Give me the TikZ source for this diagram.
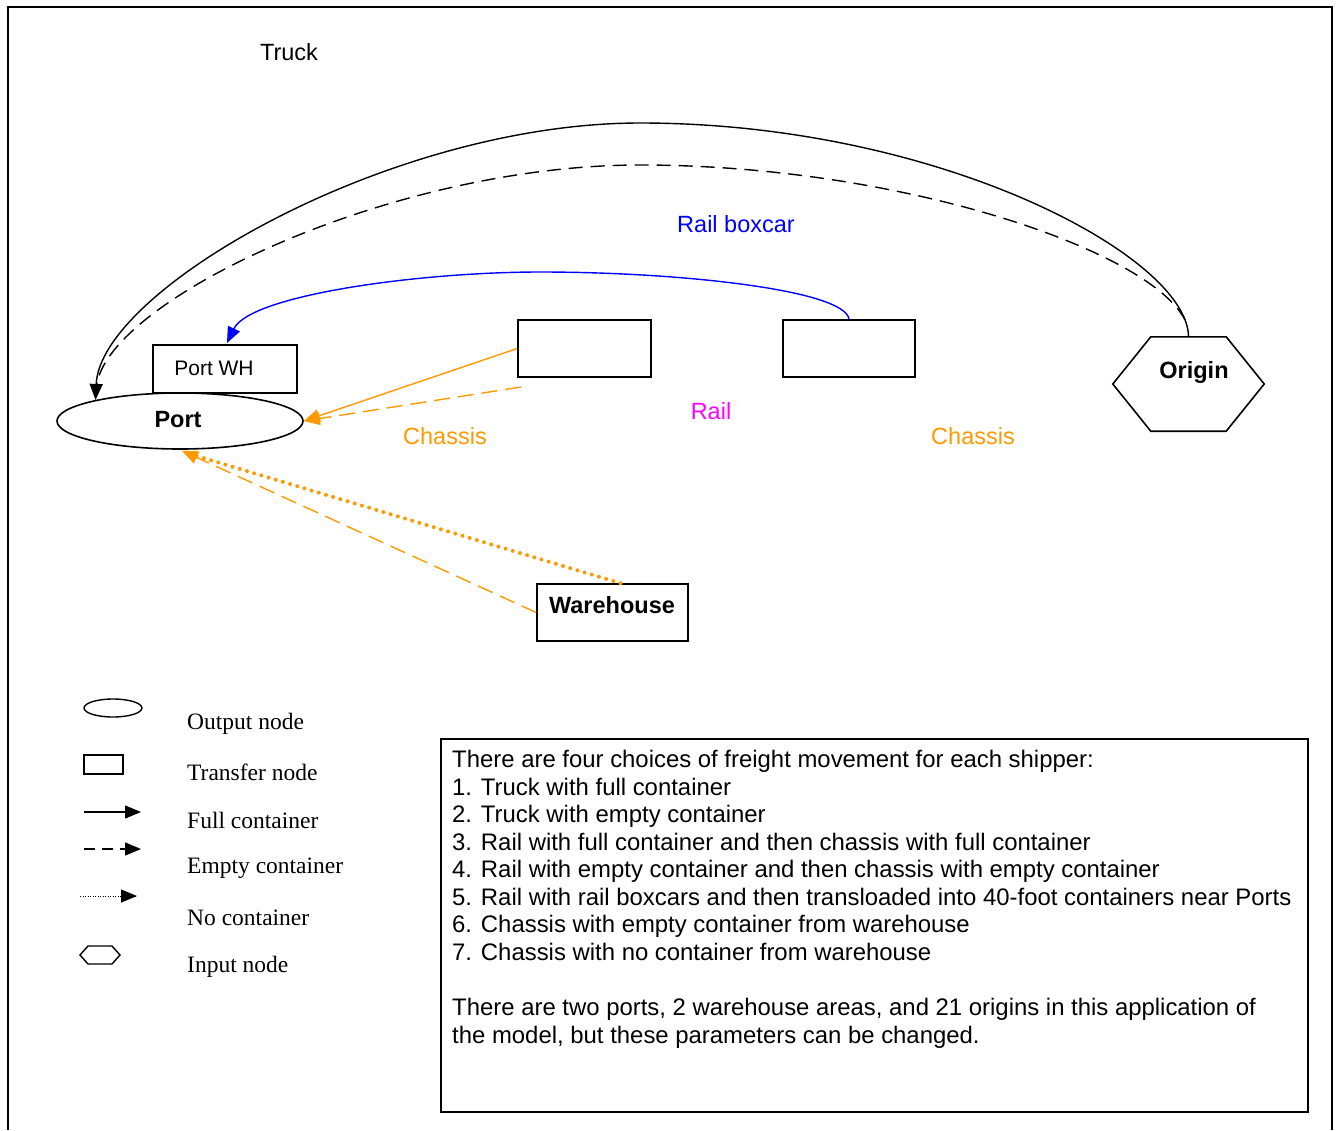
\documentclass[tikz,border=0pt]{standalone}
\usepackage{fontspec}
\setmainfont{Liberation Serif}
\newfontfamily\arial{Liberation Sans}
\usetikzlibrary{arrows.meta,shapes.geometric,calc}
\definecolor{orng}{RGB}{255,153,0}
\definecolor{blu}{RGB}{0,0,255}
\definecolor{mag}{RGB}{255,0,255}
\begin{document}
\begin{tikzpicture}[x=1pt,y=-1pt,
  txt/.style={font=\arial\fontsize{23.5}{27.5}\selectfont,inner sep=0pt},
  btxt/.style={font=\arial\bfseries\fontsize{23.5}{27.5}\selectfont,inner sep=0pt},
  leg/.style={font=\fontsize{23.5}{27.5}\selectfont,inner sep=0pt,anchor=west},
  boxn/.style={draw,line width=1.6pt,inner sep=0pt},
  tip/.style={-{Triangle[length=16pt,width=13pt]}},
  lnk/.style={line width=1.4pt},
  bigdash/.style={dash pattern=on 14pt off 8pt},
  odash/.style={dash pattern=on 16pt off 8pt},
  odot/.style={dash pattern=on 0pt off 7.5pt,line cap=round,line width=4pt}
]
\useasboundingbox (0,0) rectangle (1338,1130);
% frame
\draw[line width=1.8pt] (8,1130) -- (8,7) -- (1332,7) -- (1332,1130);

% nodes
\node[txt] (truck) at (289,52) {Truck};
\node[draw,ellipse,line width=1.6pt,minimum width=246,minimum height=56,inner sep=0pt] (port) at (180,421) {};
\node[btxt] (portlbl) at (178,420) {Port};
\node[boxn,minimum width=144,minimum height=48] (portwh) at (225,369) {};
\node[txt,font=\arial\fontsize{21}{25}\selectfont] (portwhlbl) at (214,368) {Port WH};
\node[boxn,minimum width=133,minimum height=57] (box1) at (584.5,348.5) {};
\node[boxn,minimum width=132,minimum height=57] (box2) at (849,348.5) {};
\node[minimum width=151,minimum height=94,inner sep=0pt] (origin) at (1188.5,384) {};
\draw[line width=1.6pt] (origin.west) -- ($(origin.north west)+(38,0)$) -- ($(origin.north east)+(-38,0)$) -- (origin.east) -- ($(origin.south east)+(-38,0)$) -- ($(origin.south west)+(38,0)$) -- cycle;
\node[btxt] (originlbl) at (1194,372) {Origin};
\node[boxn,minimum width=151,minimum height=57] (wh) at (612.5,612.5) {};
\node[btxt] (whlbl) at (612,605) {Warehouse};

% labels
\node[txt,text=blu] (lrb) at (736,224) {Rail boxcar};
\node[txt,text=mag] (lrail) at (711,411) {Rail};
\node[txt,text=orng] (lch1) at (445,436) {Chassis};
\node[txt,text=orng] (lch2) at (973,436) {Chassis};

% truck arcs
\draw[lnk,tip] (origin.north) .. controls (1188,257) and (940,123) .. (640,123)
  .. controls (390,123) and (100,290) .. (port.166);
\coordinate (dstart) at (1185,320);
\coordinate (dend) at (97,384);
\draw[lnk,bigdash] (dstart) .. controls (1150,250) and (900,165) .. (640,165)
  .. controls (390,165) and (110,300) .. (dend);
% rail boxcar
\draw[lnk,blu,tip] (box2.north) .. controls (845,290) and (680,272) .. (540,272)
  .. controls (420,272) and (250,295) .. (227,343);
% chassis from rail
\draw[lnk,orng,tip] (box1.west) -- (port.east);
\coordinate (b1d) at (521,387);
\draw[lnk,orng,odash,tip] (b1d) -- (port.east);
% warehouse
\draw[odot,orng] ($(wh.north)+(8,0)$) -- ($(port.south)+(6,3)$);
\draw[lnk,orng,odash,tip] (wh.west) -- ($(port.south)+(2,1)$);

% legend
\node[draw,ellipse,line width=1.4pt,minimum width=58,minimum height=18,inner sep=0pt] (lgell) at (113,708) {};
\node[leg] (t1) at (187,724) {Output node};
\node[draw,line width=1.4pt,minimum width=39,minimum height=19,inner sep=0pt] (lgrect) at (103.5,764.5) {};
\node[leg] (t2) at (187,772) {Transfer node};
\coordinate (a1s) at (84,812); \coordinate (a1e) at (141,812);
\draw[lnk,tip] (a1s) -- (a1e);
\node[leg] (t3) at (187,820) {Full container};
\coordinate (a2s) at (84,849); \coordinate (a2e) at (141,849);
\draw[lnk,tip,dash pattern=on 11pt off 7pt] (a2s) -- (a2e);
\node[leg] (t4) at (187,868) {Empty container};
\coordinate (a3s) at (80,896); \coordinate (a3e) at (137,896);
\draw[line width=1pt,dash pattern=on 1pt off 1.5pt] (a3s) -- (a3e);
\draw[line width=1pt,-{Triangle[length=16pt,width=13pt]}] ($(a3e)+(-15,0)$) -- (a3e);
\node[leg] (t5) at (187,918) {No container};
\draw[line width=1.4pt] (80,955) -- (88,946) -- (112,946) -- (120,955) -- (112,964) -- (88,964) -- cycle;
\node[leg] (t6) at (187,967) {Input node};

% text box
\node[draw,line width=1.6pt,minimum width=867,minimum height=373,inner sep=0pt] (tbox) at (874.5,925.5) {};
\node[txt,font=\arial\fontsize{23.9}{27.57}\selectfont,anchor=north west,align=left] (tboxtxt) at (452,750) {There are four choices of freight movement for each shipper:\\
1. Truck with full container\\
2. Truck with empty container\\
3. Rail with full container and then chassis with full container\\
4. Rail with empty container and then chassis with empty container\\
5. Rail with rail boxcars and then transloaded into 40-foot containers near Ports\\
6. Chassis with empty container from warehouse\\
7. Chassis with no container from warehouse\\[27.57pt]
There are two ports, 2 warehouse areas, and 21 origins in this application of\\
the model, but these parameters can be changed.};
\end{tikzpicture}
\end{document}
